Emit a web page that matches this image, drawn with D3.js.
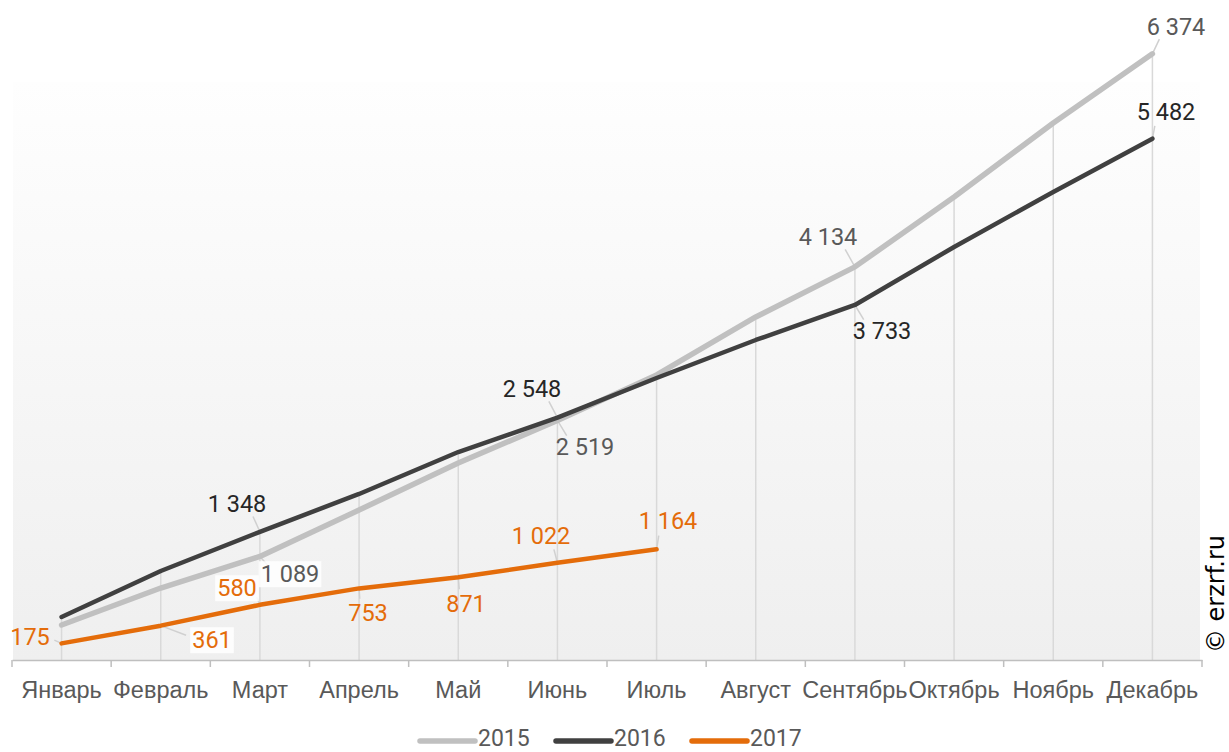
<!DOCTYPE html>
<html>
<head>
<meta charset="utf-8">
<script src="https://cdn.jsdelivr.net/npm/d3@7"></script>
<style>
  body { margin: 0; background: #fff; }
  svg { display: block; font-family: Roboto, "Noto Sans", sans-serif; }
</style>
</head>
<body>
<div id="container"></div>
<script>
const months = ['Январь', 'Февраль', 'Март', 'Апрель', 'Май', 'Июнь', 'Июль', 'Август', 'Сентябрь', 'Октябрь', 'Ноябрь', 'Декабрь'];
const years = ['2015', '2016', '2017'];
const values2015 = [368, 757, 1089, 1577, 2071, 2519, 2997, 3607, 4134, 4869, 5647, 6374];
const values2016 = [452, 936, 1348, 1746, 2187, 2548, 2965, 3365, 3733, 4343, 4921, 5482];
const values2017 = [175, 361, 580, 753, 871, 1022, 1164];
// which points carry a value label
const labeled2015 = [2, 5, 8, 11];
const labeled2016 = [2, 5, 8, 11];
const labeled2017 = [0, 1, 2, 3, 4, 5, 6];

const W = 1229, H = 752;
const left = 12, right = 1202, bottom = 660;

const svg = d3.select('#container').append('svg')
    .attr('width', W)
    .attr('height', H);

const defs = svg.append('defs');
const grad = defs.append('linearGradient')
    .attr('id', 'bg')
    .attr('x1', 0).attr('y1', 0).attr('x2', 0).attr('y2', 1);
grad.append('stop').attr('offset', '0%').attr('stop-color', '#fefefe');
grad.append('stop').attr('offset', '100%').attr('stop-color', '#efefef');

svg.append('rect')
    .attr('x', 13).attr('y', 82)
    .attr('width', 1187).attr('height', bottom - 82)
    .attr('fill', 'url(#bg)');

const x = d3.scaleBand().domain(months).range([left, right]);
const y = d3.scaleLinear().domain([0, 7000]).range([bottom, bottom - 7000 * 0.0951]);
const cx = (i) => x(months[i]) + x.bandwidth() / 2;

const series = [
  { name: years[0], values: values2015, color: '#c0c0c0', width: 5.5, labeled: labeled2015, text: '#595959' },
  { name: years[1], values: values2016, color: '#404040', width: 4.5, labeled: labeled2016, text: '#262626' },
  { name: years[2], values: values2017, color: '#e46c0a', width: 4.5, labeled: labeled2017, text: '#e46c0a' }
];

// drop lines from the highest point down to the axis
svg.append('g').selectAll('line')
    .data(months)
    .join('line')
    .attr('x1', (d, i) => cx(i)).attr('x2', (d, i) => cx(i))
    .attr('y1', (d, i) => y(d3.max(series, s => s.values[i] === undefined ? 0 : s.values[i])))
    .attr('y2', bottom)
    .attr('stroke', '#d9d9d9')
    .attr('stroke-width', 1.5);

// x axis
const xAxis = d3.axisBottom(x).tickSize(0).tickPadding(21);
const gx = svg.append('g')
    .attr('transform', 'translate(0,' + bottom + ')')
    .call(xAxis);
gx.select('.domain').attr('stroke', '#bfbfbf').attr('stroke-width', 1.5);
gx.selectAll('.tick text')
    .attr('fill', '#595959')
    .style('font-size', '23.5px');
svg.append('g').selectAll('line')
    .data(d3.range(months.length + 1))
    .join('line')
    .attr('x1', i => left + i * x.bandwidth()).attr('x2', i => left + i * x.bandwidth())
    .attr('y1', bottom).attr('y2', bottom + 7)
    .attr('stroke', '#bfbfbf')
    .attr('stroke-width', 1.5);

const line = d3.line()
    .x((d, i) => cx(i))
    .y(d => y(d));

// label centres, [x, y, white box]
const labelPos = {
  '2015': { 2: [290, 574, true], 5: [585, 447], 8: [828, 237], 11: [1176, 27] },
  '2016': { 2: [237, 504], 5: [532, 389], 8: [882, 331], 11: [1166, 112] },
  '2017': { 0: [30, 637], 1: [212, 640, true], 2: [237, 588, true], 3: [368, 613], 4: [466, 604], 5: [541, 536], 6: [668, 521] }
};

// leader lines, drawn before series lines
const leaders = svg.append('g');
series.forEach(function (s) {
  s.labeled.forEach(function (i) {
    const p = labelPos[s.name][i];
    const px = cx(i), py = y(s.values[i]);
    const dx = p[0] - px, dy = p[1] - py;
    const len = Math.sqrt(dx * dx + dy * dy);
    if (len < 24) return;
    const lx = px + dx * (1 - 24 / len) * 0.9, ly = py + dy * (1 - 14 / len) * 0.9;
    leaders.append('line')
        .attr('x1', px).attr('y1', py)
        .attr('x2', lx).attr('y2', ly)
        .attr('stroke', '#d0d0d0')
        .attr('stroke-width', 1.5);
  });
});

series.forEach(function (s) {
  svg.append('path')
      .datum(s.values)
      .attr('d', line)
      .attr('fill', 'none')
      .attr('stroke', s.color)
      .attr('stroke-width', s.width)
      .attr('stroke-linecap', 'round')
      .attr('stroke-linejoin', 'round');
});

// value labels
const fmt = (v) => d3.format(',')(v).replace(',', ' ');
series.forEach(function (s) {
  s.labeled.forEach(function (i) {
    const p = labelPos[s.name][i];
    const g = svg.append('g');
    const t = g.append('text')
        .attr('x', p[0]).attr('y', p[1])
        .attr('dy', '0.35em')
        .attr('text-anchor', 'middle')
        .attr('fill', s.text)
        .style('font-size', '23.5px')
        .text(fmt(s.values[i]));
    if (p[2]) {
      const b = t.node().getBBox();
      g.insert('rect', 'text')
          .attr('x', b.x - 2).attr('y', b.y + 1)
          .attr('width', b.width + 4).attr('height', b.height - 2)
          .attr('fill', '#fff')
          .attr('opacity', 0.85);
    }
  });
});

// legend
const legend = svg.append('g').selectAll('g')
    .data(series)
    .join('g')
    .attr('transform', (d, i) => 'translate(' + (420 + i * 136) + ',738)');
legend.append('line')
    .attr('x1', 0).attr('x2', 55)
    .attr('y1', 3).attr('y2', 3)
    .attr('stroke', d => d.color)
    .attr('stroke-width', 5.5)
    .attr('stroke-linecap', 'round');
legend.append('text')
    .attr('x', 58).attr('y', 0)
    .attr('dy', '0.35em')
    .attr('fill', '#595959')
    .style('font-size', '23px')
    .text(d => d.name);

// copyright
svg.append('text')
    .attr('transform', 'translate(1224,594) rotate(-90)')
    .attr('text-anchor', 'middle')
    .attr('fill', '#000')
    .style('font-size', '24px')
    .style('font-family', '"DejaVu Sans", sans-serif')
    .text('© erzrf.ru');
</script>
</body>
</html>
